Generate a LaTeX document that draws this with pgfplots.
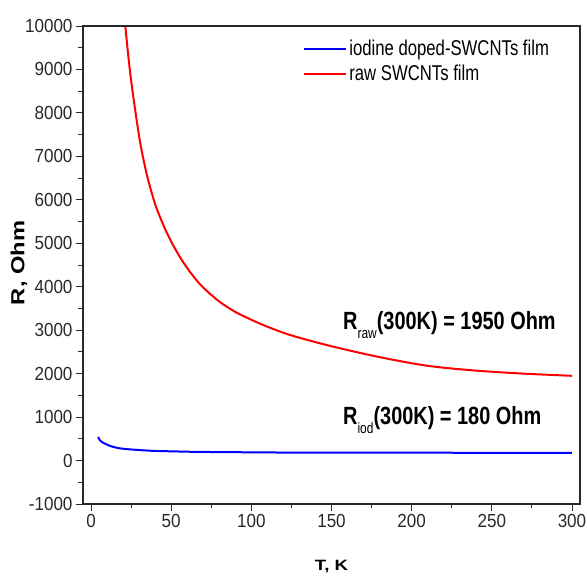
\documentclass[border=0pt]{standalone}
\usepackage{pgfplots}
\pgfplotsset{compat=1.18}
\usepackage{fontspec}
\setmainfont{Liberation Sans}
\newfontfamily\tickfont{Liberation Sans}[FakeStretch=0.9]
\newfontfamily\legfont{Liberation Sans}[FakeStretch=0.78]
\newfontfamily\annfont{Liberation Sans}[FakeStretch=0.8]
\newfontfamily\labfont{Liberation Sans}[FakeStretch=1.25]
\definecolor{axgray}{RGB}{40,40,40}
\begin{document}
\begin{tikzpicture}
\path[use as bounding box] (-83bp,-78bp) rectangle (504bp,504bp);
\begin{axis}[
  at={(0,0)}, anchor=south west,
  scale only axis, width=497bp, height=478bp,
  xmin=-5, xmax=305, ymin=-1000, ymax=10000,
  xtick={0,50,...,300}, ytick={-1000,0,...,10000},
  minor x tick num=1, minor y tick num=1,
  tick pos=left,
  tick align=outside,
  major tick length=7bp, minor tick length=4.5bp,
  axis line style={axgray, line width=1.2bp},
  tick style={axgray, line width=0.9bp},
  scaled ticks=false,
  /pgf/number format/assume math mode=true,
  /pgf/number format/1000 sep={},
  ticklabel style={font=\fontsize{19}{19}\tickfont, text=axgray},
  legend style={at={(0.443,0.975)}, anchor=north west, draw=none, fill=none,
    font=\fontsize{21.5}{21.5}\legfont, row sep=4bp, inner sep=0pt},
  legend cell align=left,
  legend image code/.code={\draw[#1, line width=2bp] (0bp,0bp) -- (42bp,0bp);},
]
\addplot[blue, line width=2bp, smooth, tension=0.4] coordinates {
(4.4,540) (5.5,470) (7,420) (8.9,385) (12,335) (17.2,285) (25,255) (38,224)
(50,212) (65,200) (90,192) (121,184) (150,183) (200,181) (250,178) (300,178)
};
\addlegendentry{iodine doped-SWCNTs film}
\addplot[red, line width=2bp, smooth, tension=0.5] coordinates {
(21.4,10000) (23,9400) (25,8750) (28,7950) (31,7250) (35,6550) (40,5900)
(45,5430) (50,5040) (56,4650) (63,4280) (70,3980) (80,3660) (90,3420)
(100,3240) (110,3080) (125,2880) (150,2630) (180,2380) (210,2180)
(240,2070) (270,2000) (300,1950)
};
\addlegendentry{raw SWCNTs film}
\end{axis}
\draw[axgray, line width=1.2bp] (0bp,478bp) -- (497bp,478bp) -- (497bp,0bp);
\node[anchor=base west, inner sep=0pt] at (260bp,174bp)
  {\fontsize{25}{25}\annfont\bfseries R\raisebox{-9bp}{\fontsize{15}{15}\annfont\mdseries raw}(300K) = 1950 Ohm};
\node[anchor=base west, inner sep=0pt] at (260bp,79bp)
  {\fontsize{25}{25}\annfont\bfseries R\raisebox{-9bp}{\fontsize{15}{15}\annfont\mdseries iod}(300K) = 180 Ohm};
\node[rotate=90, inner sep=0pt] at (-64bp,241bp) {\fontsize{19}{19}\labfont\bfseries R, Ohm};
\node[inner sep=0pt] at (248.5bp,-63bp) {\fontsize{15}{15}\labfont\bfseries T, K};
\end{tikzpicture}
\end{document}
